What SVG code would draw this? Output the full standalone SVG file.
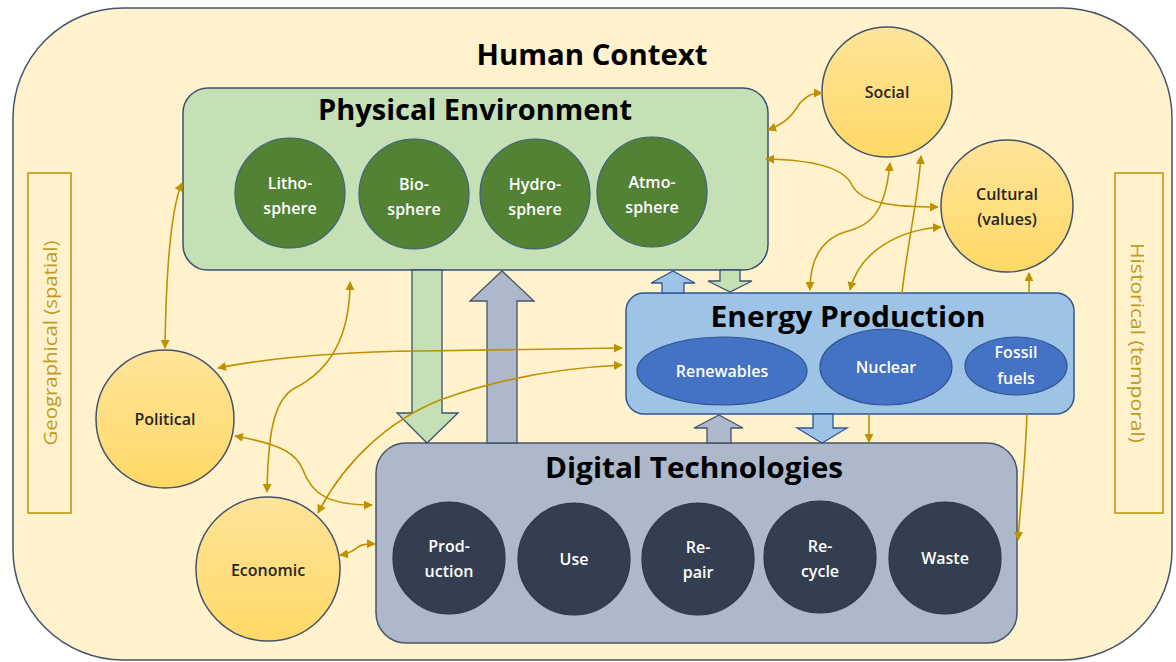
<svg xmlns="http://www.w3.org/2000/svg" width="1176" height="662" viewBox="0 0 1176 662">
<defs>
<linearGradient id="yel" x1="0" y1="0" x2="0" y2="1">
<stop offset="0" stop-color="#FFE49A"/>
<stop offset="1" stop-color="#FFD966"/>
</linearGradient>
<marker id="ah" viewBox="0 0 10 10" refX="9" refY="5" markerWidth="9" markerHeight="9" markerUnits="userSpaceOnUse" orient="auto-start-reverse">
<path d="M0,0 L10,5 L0,10 z" fill="#BF9000"/>
</marker>
<style>
.title{font-family:"Open Sans","Liberation Sans",sans-serif;font-weight:700;fill:#000;text-anchor:middle}
.wt{font-family:"Open Sans","Liberation Sans",sans-serif;font-size:16px;font-weight:600;fill:#fff;text-anchor:middle}
.dt{font-family:"Open Sans","Liberation Sans",sans-serif;font-size:16px;font-weight:600;fill:#262626;text-anchor:middle}
.side{font-family:"Open Sans","Liberation Sans",sans-serif;font-size:19px;fill:#C29A22;text-anchor:middle}
.con{fill:none;stroke:#BF9000;stroke-width:1.6}
.yc{fill:url(#yel);stroke:#44546A;stroke-width:1.5}
.gc{fill:#548235;stroke:#3E5F80;stroke-width:1.2}
.bc{fill:#333F50;stroke:#2A3547;stroke-width:1.2}
.el{fill:#4472C4;stroke:#2F528F;stroke-width:1.2}
.sb{fill:none;stroke:#BF9000;stroke-width:1.5}
</style>
</defs>

<g id="human-context">
<rect x="13" y="8" width="1159" height="652" rx="110" ry="110" fill="#FFF2CC" stroke="#44546A" stroke-width="1.5"/>
<text class="title" x="592" y="65" font-size="28" textLength="231" lengthAdjust="spacingAndGlyphs">Human Context</text>
</g>

<g id="geographical">
<rect class="sb" x="28" y="173" width="43" height="340"/>
<text class="side" transform="translate(57,343) rotate(-90)" textLength="205" lengthAdjust="spacingAndGlyphs">Geographical (spatial)</text>
</g>

<g id="historical">
<rect class="sb" x="1115" y="173" width="48" height="340"/>
<text class="side" transform="translate(1131,343) rotate(90)" textLength="200" lengthAdjust="spacingAndGlyphs">Historical (temporal)</text>
</g>

<g id="physical-environment">
<rect x="183" y="88" width="585" height="182" rx="25" ry="25" fill="#C5E0B4" stroke="#3A5070" stroke-width="1.5"/>
<text class="title" x="475" y="120" font-size="28" textLength="314" lengthAdjust="spacingAndGlyphs">Physical Environment</text>
<g id="lithosphere"><circle class="gc" cx="290" cy="193" r="55"/><text class="wt" x="290" y="189">Litho-</text><text class="wt" x="290" y="214">sphere</text></g>
<g id="biosphere"><circle class="gc" cx="414" cy="194" r="55"/><text class="wt" x="414" y="190">Bio-</text><text class="wt" x="414" y="215">sphere</text></g>
<g id="hydrosphere"><circle class="gc" cx="535" cy="194" r="55"/><text class="wt" x="535" y="190">Hydro-</text><text class="wt" x="535" y="215">sphere</text></g>
<g id="atmosphere"><circle class="gc" cx="652" cy="192" r="55"/><text class="wt" x="652" y="188">Atmo-</text><text class="wt" x="652" y="213">sphere</text></g>
</g>

<g id="energy-production">
<rect x="626" y="293" width="448" height="121" rx="18" ry="18" fill="#9DC3E6" stroke="#2F5597" stroke-width="1.5"/>
<text class="title" x="848" y="327" font-size="28" textLength="275" lengthAdjust="spacingAndGlyphs">Energy Production</text>
<g id="renewables"><ellipse class="el" cx="722" cy="371" rx="85" ry="34"/><text class="wt" x="722" y="377">Renewables</text></g>
<g id="nuclear"><ellipse class="el" cx="886" cy="367" rx="66" ry="38"/><text class="wt" x="886" y="373">Nuclear</text></g>
<g id="fossil-fuels"><ellipse class="el" cx="1016" cy="366" rx="51" ry="29"/><text class="wt" x="1016" y="358">Fossil</text><text class="wt" x="1016" y="384">fuels</text></g>
</g>

<g id="digital-technologies">
<rect x="376" y="443" width="641" height="200" rx="30" ry="30" fill="#ADB9CA" stroke="#44546A" stroke-width="1.5"/>
<text class="title" x="694" y="478" font-size="29" textLength="298" lengthAdjust="spacingAndGlyphs">Digital Technologies</text>
<g id="production"><circle class="bc" cx="449" cy="558" r="56"/><text class="wt" x="449" y="552">Prod-</text><text class="wt" x="449" y="577">uction</text></g>
<g id="use"><circle class="bc" cx="574" cy="559" r="56"/><text class="wt" x="574" y="565">Use</text></g>
<g id="repair"><circle class="bc" cx="698" cy="559" r="56"/><text class="wt" x="698" y="553">Re-</text><text class="wt" x="698" y="578">pair</text></g>
<g id="recycle"><circle class="bc" cx="820" cy="557" r="56"/><text class="wt" x="820" y="552">Re-</text><text class="wt" x="820" y="577">cycle</text></g>
<g id="waste"><circle class="bc" cx="945" cy="558" r="56"/><text class="wt" x="945" y="564">Waste</text></g>
</g>

<g id="social"><circle class="yc" cx="887" cy="92" r="65"/><text class="dt" x="887" y="98">Social</text></g>
<g id="cultural"><circle class="yc" cx="1007" cy="206" r="66"/><text class="dt" x="1007" y="200">Cultural</text><text class="dt" x="1007" y="225">(values)</text></g>
<g id="political"><circle class="yc" cx="165" cy="419" r="69"/><text class="dt" x="165" y="425">Political</text></g>
<g id="economic"><circle class="yc" cx="268" cy="569" r="72"/><text class="dt" x="268" y="576">Economic</text></g>

<g id="connectors">
<polygon points="412,270 442,270 442,413 458,413 427,443 397,413 412,413" fill="#C5E0B4" stroke="#3A5070" stroke-width="1.3"/>
<polygon points="502,271 534,301 517,301 517,443 487,443 487,301 470,301" fill="#ADB9CA" stroke="#44546A" stroke-width="1.3"/>
<polygon points="673,271 695,283 684,283 684,293 662,293 662,283 651,283" fill="#9DC3E6" stroke="#2F5597" stroke-width="1.3"/>
<polygon points="720,270 740,270 740,281 752,281 730,292 708,281 720,281" fill="#C5E0B4" stroke="#3A5070" stroke-width="1.3"/>
<polygon points="719,415 743,428 731,428 731,443 707,443 707,428 694,428" fill="#ADB9CA" stroke="#44546A" stroke-width="1.3"/>
<polygon points="813,414 833,414 833,428 847,428 822,443 797,428 813,428" fill="#9DC3E6" stroke="#2F5597" stroke-width="1.3"/>
<path class="con" d="M165,348 C166,280 170,210 182,183" marker-start="url(#ah)" marker-end="url(#ah)"/>
<path class="con" d="M235,436 C285,445 297,455 303,470 C312,495 330,505 372,505" marker-start="url(#ah)" marker-end="url(#ah)"/>
<path class="con" d="M267,492 C268,440 272,400 295,388 C335,368 350,330 350,282" marker-start="url(#ah)" marker-end="url(#ah)"/>
<path class="con" d="M218,368 Q300,352 420,351 L622,348" marker-start="url(#ah)" marker-end="url(#ah)"/>
<path class="con" d="M318,513 C345,460 390,420 440,400 C500,378 560,368 622,365" marker-start="url(#ah)" marker-end="url(#ah)"/>
<path class="con" d="M340,555 C360,552 352,543 375,544" marker-start="url(#ah)" marker-end="url(#ah)"/>
<path class="con" d="M768,130 C790,122 795,110 800,103 C808,95 812,93 822,93" marker-start="url(#ah)" marker-end="url(#ah)"/>
<path class="con" d="M766,159 C820,160 845,170 852,185 C862,205 900,207 938,207" marker-start="url(#ah)" marker-end="url(#ah)"/>
<path class="con" d="M890,163 C885,215 870,225 845,232 C820,240 810,260 810,290" marker-start="url(#ah)" marker-end="url(#ah)"/>
<path class="con" d="M941,227 C900,230 860,250 850,290" marker-start="url(#ah)" marker-end="url(#ah)"/>
<path class="con" d="M902,293 C908,240 918,200 921,156" marker-end="url(#ah)"/>
<path class="con" d="M1029,293 L1029,273" marker-end="url(#ah)"/>
<path class="con" d="M869,414 L869,442" marker-end="url(#ah)"/>
<path class="con" d="M1027,414 C1025,470 1020,510 1018,540" marker-end="url(#ah)"/>
</g>
</svg>
